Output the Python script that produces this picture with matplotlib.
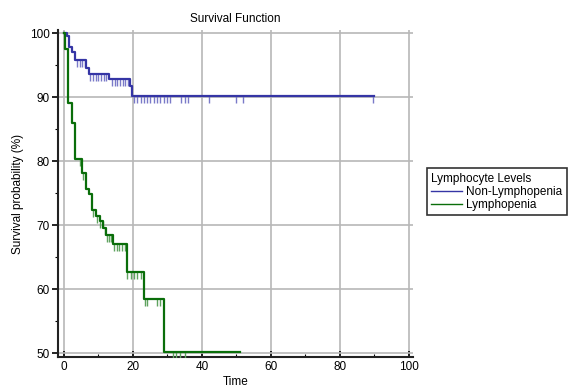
import numpy as np
import matplotlib
matplotlib.use('Agg')
import matplotlib.pyplot as plt
from matplotlib.path import Path
from matplotlib.ticker import MultipleLocator

plt.rcParams['font.family'] = ['Liberation Sans', 'DejaVu Sans']

# step points (time, survival %)
non_lymph_time = [0, 0.9, 1.4, 2.4, 3.1, 6.4, 7.3, 13.1, 19.2, 19.8, 90]
non_lymph_surv = [100, 99.5, 97.9, 97.0, 95.8, 94.6, 93.7, 92.8, 91.8, 90.2, 90.2]
non_lymph_cens = [3.8, 4.6, 5.3, 6.1, 7.6, 8.4, 9.2, 9.9, 10.7, 11.5, 12.2,
                  13.9, 14.7, 15.4, 16.2, 17.0, 17.7, 18.5, 20.3, 21.3, 22.2,
                  23.2, 24.2, 25.1, 26.1, 27.0, 28.0, 29.0, 29.9, 30.9, 34.0,
                  35.0, 36.0, 42.1, 49.9, 51.9, 89.8]

lymph_time = [0, 0.2, 1.1, 2.2, 3.1, 5.2, 6.4, 7.3, 8.2, 9.3, 10.3, 11.3,
              12.2, 14.2, 18.3, 23.3, 28.9, 51]
lymph_surv = [100, 97.6, 89.1, 86.0, 80.4, 78.1, 75.6, 74.8, 72.4, 71.5, 70.6,
              69.5, 68.4, 67.0, 62.7, 58.4, 50.1, 50.1]
lymph_cens = [4.6, 5.4, 8.4, 9.7, 10.5, 11.2, 11.9, 12.4, 13.1, 13.7, 14.6,
              15.3, 16.1, 16.9, 17.6, 18.4, 19.3, 20.3, 21.2, 22.2, 23.4, 24.0,
              26.9, 27.8, 31.6, 32.6, 33.8, 35.0]

groups = ['Non-Lymphopenia', 'Lymphopenia']
line_colors = ['#3535a5', '#0a6e0a']
cens_colors = ['#7a7ac8', '#5fa35f']

# censor mark: short vertical tick hanging below the curve
tick_mark = Path([(0, 0), (0, -1)])

fig = plt.figure(figsize=(5.76, 3.9), dpi=100)
ax = fig.add_axes([0.101, 0.085, 0.616, 0.838])

data = [(non_lymph_time, non_lymph_surv, non_lymph_cens),
        (lymph_time, lymph_surv, lymph_cens)]
for (t, s, c), name, lc, cc in zip(data, groups, line_colors, cens_colors):
    t = np.array(t)
    s = np.array(s)
    c = np.array(c)
    idx = np.searchsorted(t, c, side='right') - 1
    ax.plot(c, s[idx], linestyle='none', marker=tick_mark, markersize=10,
            markeredgecolor=cc, markeredgewidth=1.0, zorder=3)
    ax.plot(t, s, drawstyle='steps-post', color=lc, lw=1.6, label=name, zorder=4)

ax.set_xlim(-1.7, 101.3)
ax.set_ylim(49.4, 100.5)
ax.xaxis.set_major_locator(MultipleLocator(20))
ax.xaxis.set_minor_locator(MultipleLocator(10))
ax.yaxis.set_major_locator(MultipleLocator(10))
ax.yaxis.set_minor_locator(MultipleLocator(5))
ax.grid(True, which='major', color='#b8b8b8', lw=1.2)
ax.set_axisbelow(True)

for side in ['top', 'right']:
    ax.spines[side].set_visible(False)
for side in ['left', 'bottom']:
    ax.spines[side].set_linewidth(1.5)
    ax.spines[side].set_color('#222222')

ax.tick_params(axis='x', which='major', direction='in', length=4, width=1.2, labelsize=8.5, pad=3)
ax.tick_params(axis='x', which='minor', direction='in', length=2.5, width=0.8)
ax.tick_params(axis='y', which='major', direction='out', length=4, width=1.2, labelsize=8.5, pad=2)
ax.tick_params(axis='y', which='minor', direction='out', length=2.5, width=0.8)

ax.set_title('Survival Function', fontsize=8.5, pad=6)
ax.set_xlabel('Time', fontsize=8.5, labelpad=2)
ax.set_ylabel('Survival probability (%)', fontsize=8.5, labelpad=4)

leg = fig.legend(loc='upper left', bbox_to_anchor=(0.741, 0.568),
                 title='Lymphocyte Levels', fontsize=8.5, title_fontsize=8.5,
                 frameon=True, fancybox=False, edgecolor='black',
                 handlelength=2.6, handletextpad=0.4, borderpad=0.35,
                 labelspacing=0.1, borderaxespad=0)
leg._legend_box.align = 'left'
leg.get_frame().set_linewidth(1.2)
for h in leg.get_lines():
    h.set_linewidth(1.0)

fig.savefig('out.png', dpi=100)
